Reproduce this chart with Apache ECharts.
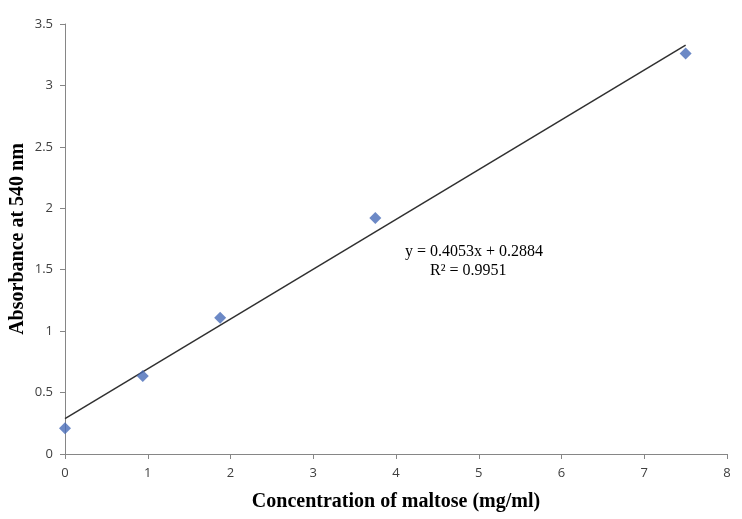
<!DOCTYPE html>
<html>
<head>
    <meta charset="utf-8">
    <script src="https://cdn.jsdelivr.net/npm/echarts@6/dist/echarts.min.js"></script>
    <style>
        html, body { margin: 0; padding: 0; background: #fff; }
    </style>
</head>
<body>
<div id="main" style="width: 742px;height:519px;"></div>
<script type="text/javascript">
    // 数据
    var concentration = [0, 0.94, 1.875, 3.75, 7.5];
    var absorbance = [0.21, 0.635, 1.11, 1.92, 3.26];
    var slope = 0.4053, intercept = 0.2884;
    var trendX = [0, 7.5];
    var eqText = 'y = 0.4053x + 0.2884';
    var r2Text = 'R² = 0.9951';

    var points = [];
    for (var i = 0; i < concentration.length; i++) {
        points.push([concentration[i], absorbance[i]]);
    }
    var trend = [];
    for (var j = 0; j < trendX.length; j++) {
        trend.push([trendX[j], slope * trendX[j] + intercept]);
    }

    var myChart = echarts.init(document.getElementById('main'));
    var axisCommon = {
        axisLine: {show: true, lineStyle: {color: '#868686', width: 1}},
        axisTick: {show: true, inside: false, length: 5, lineStyle: {color: '#868686'}},
        splitLine: {show: false}
    };
    myChart.setOption({
        animation: false,
        grid: {left: 65, right: 15, top: 24, bottom: 65, containLabel: false, outerBoundsMode: 'none'},
        xAxis: Object.assign({
            type: 'value', min: 0, max: 8, interval: 1,
            name: 'Concentration of maltose (mg/ml)',
            nameLocation: 'middle', nameGap: 38,
            nameTextStyle: {fontFamily: 'Liberation Serif', fontWeight: 'bold', fontSize: 20, color: '#000'},
            axisLabel: {color: '#404040', fontSize: 13, fontFamily: 'Open Sans', margin: 13}
        }, axisCommon),
        yAxis: Object.assign({
            type: 'value', min: 0, max: 3.5, interval: 0.5,
            name: 'Absorbance at 540 nm',
            nameLocation: 'middle', nameGap: 37, nameMoveOverlap: false,
            nameTextStyle: {fontFamily: 'Liberation Serif', fontWeight: 'bold', fontSize: 20, color: '#000'},
            axisLabel: {color: '#404040', fontSize: 13, fontFamily: 'Open Sans', margin: 12}
        }, axisCommon),
        series: [
            {
                type: 'line',
                data: trend,
                symbol: 'none',
                lineStyle: {color: '#303030', width: 1.5},
                z: 1
            },
            {
                type: 'scatter',
                data: points,
                symbol: 'diamond',
                symbolSize: 12,
                itemStyle: {color: '#476cb8'},
                z: 2
            }
        ],
        graphic: [
            {type: 'text', left: 405, top: 244, style: {text: eqText, font: '16px "Liberation Serif"', fill: '#000'}},
            {type: 'text', left: 430, top: 263, style: {text: r2Text, font: '16px "Liberation Serif"', fill: '#000'}}
        ]
    });
</script>
</body>
</html>
